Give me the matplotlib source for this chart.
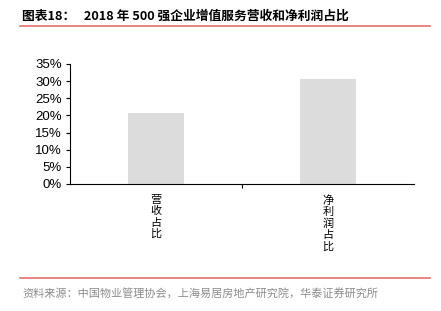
import matplotlib
matplotlib.use("Agg")
import matplotlib.pyplot as plt
from matplotlib.ticker import FuncFormatter, FixedLocator

plt.rcParams['font.family'] = ['Noto Sans CJK SC', 'DejaVu Sans']

categories = ["营收占比", "净利润占比"]
values = [20.8, 30.6]
title = "图表18：   2018 年 500 强企业增值服务营收和净利润占比"
source = "资料来源：中国物业管理协会，上海易居房地产研究院，华泰证券研究所"

fig = plt.figure(figsize=(4.41, 3.11), dpi=100)
ax = fig.add_axes([70 / 441, 1 - 184 / 311, 344 / 441, 120 / 311])

x = list(range(len(categories)))
ax.bar(x, values, width=0.33, color="#dcdcdc")
ax.set_xlim(-0.5, len(categories) - 0.5)
ax.set_ylim(0, 35)
ax.set_yticks(range(0, 36, 5))
ax.yaxis.set_major_formatter(FuncFormatter(lambda v, p: "%d%%" % v))
ax.tick_params(axis="y", labelsize=9.5, length=3, width=0.8, pad=3,
               labelfontfamily="Liberation Sans")

ax.set_xticks(x)
ax.set_xticklabels(["\n".join(c) for c in categories], fontsize=8,
                   linespacing=1.15, va="top")
ax.tick_params(axis="x", which="major", length=0, pad=8)
ax.xaxis.set_minor_locator(FixedLocator([0.5]))
ax.tick_params(axis="x", which="minor", length=3, width=0.8, direction="out")

for s in ["top", "right"]:
    ax.spines[s].set_visible(False)
for s in ["left", "bottom"]:
    ax.spines[s].set_linewidth(0.8)

fig.text(22 / 441, 1 - 16 / 311, title, fontsize=9.2, fontweight="bold",
         va="center", ha="left")
fig.add_artist(plt.Line2D([20 / 441, 430 / 441], [1 - 26 / 311, 1 - 26 / 311],
                          color="#e8706a", linewidth=1.2))
fig.add_artist(plt.Line2D([20 / 441, 430 / 441], [1 - 278 / 311, 1 - 278 / 311],
                          color="#e8706a", linewidth=1.2))
fig.text(22 / 441, 1 - 293 / 311, source, fontsize=8, color="#8c8c8c",
         va="center", ha="left")

fig.savefig("out.png", dpi=100)
